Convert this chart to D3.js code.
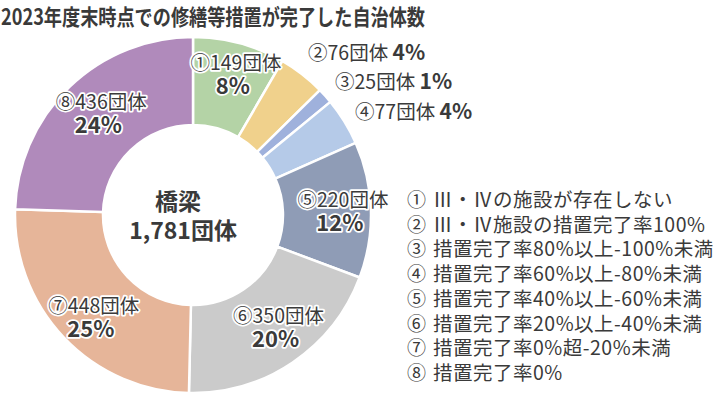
<!DOCTYPE html>
<html><head><meta charset="utf-8">
<script src="https://cdn.jsdelivr.net/npm/d3@7"></script>
<style>
html,body{margin:0;padding:0;background:#fff;}
svg{display:block;font-family:"Noto Sans CJK JP","Noto Sans",sans-serif;}
</style></head>
<body><svg id="c" width="713" height="397"></svg>
<script>
const title = "2023年度末時点での修繕等措置が完了した自治体数";
const keys = ["①","②","③","④","⑤","⑥","⑦","⑧"];
const counts = [149, 76, 25, 77, 220, 350, 448, 436];
const percents = ["8%","4%","1%","4%","12%","20%","25%","24%"];
const colors = ["#b4d3a6","#f0d18c","#9fb1dc","#b5cae8","#8f9cb6","#cbcbcb","#e6b599","#b08abb"];
const legendLabels = [
  "Ⅲ・Ⅳの施設が存在しない",
  "Ⅲ・Ⅳ施設の措置完了率100%",
  "措置完了率80%以上-100%未満",
  "措置完了率60%以上-80%未満",
  "措置完了率40%以上-60%未満",
  "措置完了率20%以上-40%未満",
  "措置完了率0%超-20%未満",
  "措置完了率0%"
];
const centerTitle = "橋梁";
const centerTotal = "1,781団体";
const unit = "団体";

const svg = d3.select("#c");
const txt = "#3a3a3a";

svg.append("text").attr("x",1).attr("y",25)
  .attr("font-size",22).attr("font-weight",700).attr("fill",txt)
  .attr("textLength",424).attr("lengthAdjust","spacingAndGlyphs")
  .text(title);

const cx = 193, cy = 215, R = 178, r = 90;
const g = svg.append("g").attr("transform",`translate(${cx},${cy})`);
const pie = d3.pie().sort(null).value(d=>d)(counts);
const arc = d3.arc().innerRadius(r).outerRadius(R);
g.selectAll("path").data(pie).join("path")
  .attr("d",arc).attr("fill",(d,i)=>colors[i])
  .attr("stroke","#fff").attr("stroke-width",2.5).attr("stroke-linejoin","round");

// center
g.append("text").attr("x",-15).attr("y",-5).attr("text-anchor","middle")
  .attr("font-size",23).attr("font-weight",700).attr("fill",txt).text(centerTitle);
g.append("text").attr("x",-10).attr("y",24).attr("text-anchor","middle")
  .attr("font-size",23).attr("font-weight",700).attr("fill",txt).text(centerTotal);

function halo(sel){
  return sel.attr("stroke","#fff").attr("stroke-width",3.5).attr("paint-order","stroke").attr("stroke-linejoin","round");
}
// inside labels
const labelArc = d3.arc().innerRadius(142).outerRadius(142);
const inside = [0,4,5,6,7];
const nudge = {0:[6,-15],4:[8,-11],5:[6,-17],6:[4,-7],7:[7,-11]};
inside.forEach(i=>{
  const [x,y] = labelArc.centroid(pie[i]);
  const [nx,ny] = nudge[i];
  halo(g.append("text").attr("x",x+nx).attr("y",y+ny+7).attr("text-anchor","middle")
    .attr("font-size",19.5).attr("fill",txt).text(keys[i]+counts[i]+unit));
  halo(g.append("text").attr("x",x+nx-3).attr("y",y+ny+31).attr("text-anchor","middle")
    .attr("font-size",22).attr("font-weight",700).attr("fill",txt).text(percents[i]));
});
// outside labels for small slices
const outside = [1,2,3];
const outPos = {1:[308,60],2:[335,89],3:[355,119]};
outside.forEach(i=>{
  const [x,y] = outPos[i];
  const t = svg.append("text").attr("x",x).attr("y",y).attr("fill",txt);
  t.append("tspan").attr("font-size",19.5).text(keys[i]+counts[i]+unit+" ");
  t.append("tspan").attr("font-size",21).attr("font-weight",700).text(percents[i]);
});

// legend
const lg = svg.append("g");
legendLabels.forEach((s,i)=>{
  const y = 207 + i*24.7;
  lg.append("text").attr("x",407).attr("y",y).attr("font-size",19).attr("fill",txt).text(keys[i]);
  lg.append("text").attr("x",433).attr("y",y).attr("font-size",19.5).attr("letter-spacing",0.5).attr("fill",txt).text(s);
});
</script></body></html>
